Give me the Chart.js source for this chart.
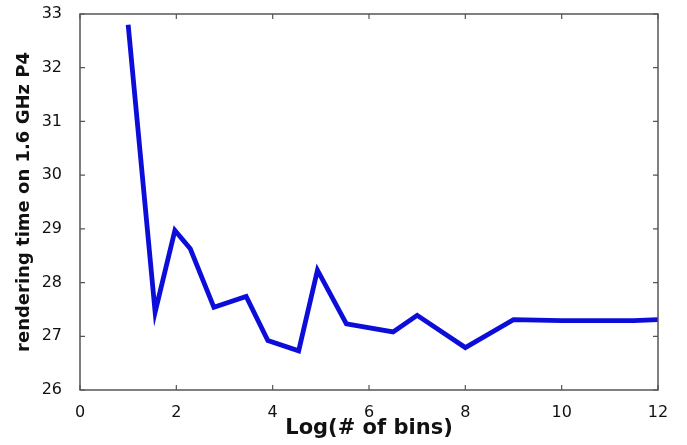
<!DOCTYPE html>
<html>
<head>
<meta charset="utf-8">
<script src="https://cdn.jsdelivr.net/npm/chart.js@4"></script>
<style>
  html, body { margin: 0; padding: 0; background: #fff; }
  #wrap { width: 687px; height: 445px; }
</style>
</head>
<body>
<div id="wrap"><canvas id="renderChart"></canvas></div>
<script>
// data
const logBins = [1, 1.56, 1.97, 2.29, 2.78, 3.45, 3.9, 4.54, 4.93, 5.53, 6.5, 7.0, 8.0, 9.0, 10.0, 11.5, 12];
const renderTime = [32.8, 27.45, 28.97, 28.63, 27.54, 27.74, 26.92, 26.73, 28.23, 27.23, 27.08, 27.39, 26.79, 27.31, 27.29, 27.29, 27.31];
const xTicks = [0, 2, 4, 6, 8, 10, 12];
const yTicks = [26, 27, 28, 29, 30, 31, 32, 33];

// box round the plot with ticks pointing inwards (matlab style)
const boxPlugin = {
    id: 'box',
    afterDraw(chart) {
        const ctx = chart.ctx;
        const a = chart.chartArea;
        const xs = chart.scales.x, ys = chart.scales.y;
        ctx.save();
        ctx.strokeStyle = '#555';
        ctx.lineWidth = 1.5;
        ctx.strokeRect(a.left, a.top, a.right - a.left, a.bottom - a.top);
        ctx.lineWidth = 1.2;
        ctx.beginPath();
        xTicks.forEach(v => {
            const px = xs.getPixelForValue(v);
            ctx.moveTo(px, a.bottom); ctx.lineTo(px, a.bottom - 5);
            ctx.moveTo(px, a.top); ctx.lineTo(px, a.top + 5);
        });
        yTicks.forEach(v => {
            const py = ys.getPixelForValue(v);
            ctx.moveTo(a.left, py); ctx.lineTo(a.left + 5, py);
            ctx.moveTo(a.right, py); ctx.lineTo(a.right - 5, py);
        });
        ctx.stroke();
        ctx.restore();
    }
};

const ctx = document.getElementById('renderChart').getContext('2d');
new Chart(ctx, {
    type: 'line',
    data: {
        datasets: [{
            data: logBins.map((x, i) => ({ x: x, y: renderTime[i] })),
            borderColor: '#0d0dda',
            borderWidth: 4.8,
            pointRadius: 0,
            tension: 0,
            fill: false
        }]
    },
    options: {
        responsive: true,
        maintainAspectRatio: false,
        animation: false,
        layout: { padding: { left: 0, top: 14, right: 29, bottom: 0 } },
        plugins: { legend: { display: false }, tooltip: { enabled: false } },
        scales: {
            x: {
                type: 'linear',
                min: 0, max: 12,
                afterFit: s => { s.height = 55; s.paddingLeft = 0; s.paddingRight = 0; },
                afterBuildTicks: s => { s.ticks = xTicks.map(v => ({ value: v })); },
                grid: { display: false },
                border: { display: false },
                ticks: {
                    padding: 5,
                    color: '#111',
                    font: { family: 'DejaVu Sans', size: 16 }
                },
                title: {
                    display: true,
                    text: 'Log(# of bins)',
                    color: '#111',
                    padding: { top: 0, bottom: 6 },
                    font: { family: 'DejaVu Sans', size: 21, weight: 'bold', lineHeight: 1 }
                }
            },
            y: {
                min: 26, max: 33,
                afterFit: s => { s.width = 80; s.paddingTop = 0; s.paddingBottom = 0; },
                afterBuildTicks: s => { s.ticks = yTicks.map(v => ({ value: v })); },
                grid: { display: false },
                border: { display: false },
                ticks: {
                    padding: 10,
                    color: '#111',
                    font: { family: 'DejaVu Sans', size: 16 }
                },
                title: {
                    display: true,
                    text: 'rendering time on 1.6 GHz P4',
                    color: '#111',
                    padding: { top: 15, bottom: 0 },
                    font: { family: 'DejaVu Sans', size: 18, weight: 'bold', lineHeight: 1 }
                }
            }
        }
    },
    plugins: [boxPlugin]
});
</script>
</body>
</html>
